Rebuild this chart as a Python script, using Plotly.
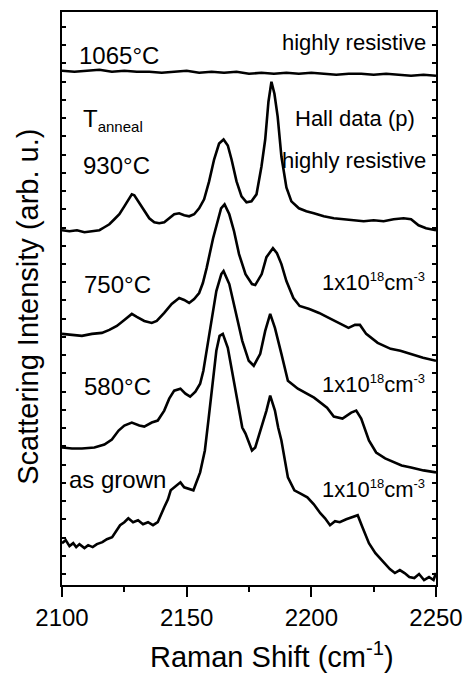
import plotly.graph_objects as go

# ---------------- data (arbitrary intensity units, curves already offset) ----------------
x_1065 = [2100, 2105, 2110, 2115, 2120, 2125, 2130, 2135, 2140, 2145, 2150, 2155, 2160, 2165, 2170,
          2175, 2180, 2185, 2190, 2195, 2200, 2205, 2210, 2215, 2220, 2225, 2230, 2235, 2240, 2245, 2250]
y_1065 = [516, 515, 516, 517, 515, 516, 515, 515, 514, 515, 516, 514, 515, 514, 515,
          513, 514, 513, 514, 513, 514, 513, 512, 513, 513, 512, 513, 512, 511, 512, 511]

x_930 = [2100, 2103, 2106, 2109, 2112, 2115, 2117, 2119, 2121, 2123, 2125, 2127, 2128, 2129, 2131,
         2133, 2135, 2137, 2139, 2141, 2143, 2145, 2147, 2149, 2151, 2153, 2155, 2157, 2159, 2161,
         2163, 2164.8, 2166.5, 2168, 2170, 2172, 2174, 2176, 2178, 2180, 2181.5, 2182.8, 2184, 2185.2,
         2186.5, 2188, 2190, 2192, 2195, 2198, 2201, 2205, 2209, 2213, 2217, 2221, 2225, 2229, 2233,
         2237, 2240, 2243, 2246, 2250]
y_930 = [356, 355, 356, 354, 355, 356, 359, 362, 367, 372, 380, 388, 392, 391, 383,
         375, 368, 364, 363, 364, 368, 372, 373, 371, 370, 372, 378, 387, 405, 427,
         443, 447, 441, 427, 405, 390, 384, 385, 392, 420, 447, 485, 505, 493,
         470, 430, 399, 385, 378, 375, 373, 370, 368, 367, 366, 365, 366, 365, 367,
         368, 367, 361, 358, 356]

x_750 = [2100, 2104, 2108, 2112, 2116, 2119, 2122, 2125, 2128, 2130, 2133, 2136, 2138, 2141, 2144,
         2147, 2149, 2151, 2153, 2155, 2156.5, 2158, 2160.6, 2163.8, 2165.2, 2167.1, 2169, 2171,
         2173.6, 2176.2, 2177.5, 2180.1, 2182, 2184.6, 2186.2, 2188, 2190, 2192.8, 2195.3, 2199.2,
         2203.1, 2207, 2211, 2214.9, 2217.5, 2219.5, 2222, 2226.6, 2231.8, 2235.7, 2239.6, 2244.8, 2250]
y_750 = [252, 251, 250, 252, 253, 256, 260, 266, 272, 269, 265, 263, 265, 273, 282,
         288, 286, 283, 287, 293, 303, 318, 348, 378, 382, 372, 355, 332,
         312, 302, 301, 312, 329, 338, 333, 322, 305, 288, 280, 277,
         273, 268, 263, 258, 261, 261, 252, 243, 237, 235, 232, 228, 225]

x_580 = [2100, 2104, 2108, 2113, 2117, 2120, 2122.7, 2125, 2128, 2131, 2133, 2136, 2138.4, 2141, 2143,
         2145, 2147.5, 2149.5, 2151.4, 2153.5, 2155.4, 2156.7, 2159.3, 2161.9, 2163.9, 2164.8, 2167.1,
         2169.7, 2172.3, 2174.9, 2176.9, 2179.5, 2181.5, 2183.5, 2185.4, 2188, 2190.6, 2194.6, 2201.1,
         2206.3, 2209, 2212.5, 2216, 2218, 2220, 2223.1, 2226, 2229.6, 2236.2, 2240, 2245, 2250]
y_580 = [138, 137, 137, 138, 141, 146, 155, 160, 163, 160, 159, 163, 165, 175, 187,
         195, 197, 192, 189, 194, 202, 215, 255, 295, 312, 315, 302,
         275, 245, 225, 220, 232, 255, 272, 258, 232, 205, 197, 188,
         178, 169, 167, 173, 175, 167, 145, 133, 127, 120, 118, 115, 113]

x_grown = [2100, 2101.5, 2103, 2104.5, 2105.7, 2107, 2109, 2110.5, 2112.3, 2114, 2116.2, 2118, 2120.1,
           2121.5, 2123.3, 2125, 2126.6, 2128.5, 2130.5, 2132.5, 2134.5, 2136.5, 2138.4,
           2141, 2142.5, 2143.6, 2145.5, 2147.5, 2149, 2150.1, 2152.7, 2155.4, 2157.3, 2158.8, 2160.6,
           2161.9, 2163.2, 2164.5, 2166.5, 2168.4, 2170.4, 2172.3, 2173.6, 2176.2, 2177.5, 2180.1,
           2182, 2183.5, 2185.4, 2186.7, 2188, 2190.6, 2193.2, 2195.5, 2198.4, 2201, 2203.6, 2205.5,
           2207.5, 2209.5, 2211.4, 2214, 2216.6, 2218.6, 2220.5, 2223.1, 2225.7, 2227.5, 2229.6,
           2231.5, 2233.5, 2235.5, 2237.4, 2239.3, 2241.3, 2243.2, 2245.2, 2247.2, 2249, 2250]
y_grown = [42, 45, 39, 42, 38, 41, 37, 40, 38, 41, 43, 46, 48,
           53, 60, 63, 67, 63, 65, 61, 63, 60, 63,
           78, 86, 95, 99, 103, 98, 97, 95, 113, 135, 167, 205,
           235, 250, 252, 238, 212, 182, 158, 152, 135, 138, 158,
           175, 190, 175, 158, 145, 108, 95, 92, 88, 81, 72, 67,
           60, 64, 63, 66, 68, 70, 58, 42, 32, 27, 22,
           16, 12, 15, 12, 8, 7, 11, 5, 8, 5, 12]

x_tick_vals = [2100, 2150, 2200, 2250]
x_tick_text = ["2100", "2150", "2200", "2250"]

series = [(x_1065, y_1065), (x_930, y_930), (x_750, y_750), (x_580, y_580), (x_grown, y_grown)]

# ---------------- figure ----------------
FONT = "Liberation Sans, Arial, sans-serif"
W, H = 473, 673
L, R, T, B = 62, 28, 10, 88
PW, PH = W - L - R, H - T - B

fig = go.Figure()
for xs, ys in series:
    fig.add_trace(go.Scatter(x=xs, y=ys, mode="lines",
                             line=dict(color="black", width=2.6), showlegend=False))


def px(xp):
    return (xp - L) / PW


def py(yp):
    return (T + PH - yp) / PH


DENS = "1x10<sup><span style='font-size:13px'>18</span></sup>cm<sup><span style='font-size:13px'>-3</span></sup>"
labels = [
    ("highly resistive", 437, 41, "right", 22),
    ("1065°C", 77, 54, "left", 24),
    ("T<sub><span style='font-size:15px'>anneal</span></sub>", 81, 118, "left", 24),
    ("Hall data (p)", 426, 117, "right", 22),
    ("highly resistive", 437, 159, "right", 22),
    ("930°C", 81, 164, "left", 24),
    ("750°C", 82, 283, "left", 24),
    (DENS, 436, 281, "right", 22),
    ("580°C", 82, 386, "left", 24),
    (DENS, 436, 383, "right", 22),
    ("as grown", 67, 479, "left", 24),
    (DENS, 436, 489, "right", 22),
]
for txt, xp, yp, anc, fs in labels:
    fig.add_annotation(text=txt, x=px(xp), y=py(yp), xref="paper", yref="paper",
                       xanchor=anc, yanchor="middle", showarrow=False,
                       font=dict(family=FONT, size=fs, color="black"))

# axis titles
fig.add_annotation(text="Raman Shift (cm<sup>-1</sup>)", x=px(277), y=py(655), xref="paper", yref="paper",
                   xanchor="center", yanchor="middle", showarrow=False,
                   font=dict(family=FONT, size=29, color="black"))
fig.add_annotation(text="Scattering Intensity (arb. u.)", x=px(27), y=py(306), xref="paper", yref="paper",
                   xanchor="center", yanchor="middle", textangle=-90, showarrow=False,
                   font=dict(family=FONT, size=29, color="black"))

fig.update_xaxes(range=[2100, 2250], tickvals=x_tick_vals, ticktext=x_tick_text,
                 ticks="outside", ticklen=10, tickwidth=2, tickcolor="black",
                 minor=dict(dtick=25, ticks="outside", ticklen=5, tickwidth=2, tickcolor="black"),
                 showline=True, linecolor="black", linewidth=2, mirror=True,
                 showgrid=False, zeroline=False,
                 tickfont=dict(family=FONT, size=24, color="black"))
fig.update_yaxes(range=[0, 575], tick0=11, dtick=18.3, showticklabels=False,
                 ticks="inside", ticklen=4, tickwidth=1.5, tickcolor="black",
                 showline=True, linecolor="black", linewidth=2, mirror="ticks",
                 showgrid=False, zeroline=False)

fig.update_layout(width=W, height=H, margin=dict(l=L, r=R, t=T, b=B),
                  plot_bgcolor="white", paper_bgcolor="white")

fig.write_html("out.html")
